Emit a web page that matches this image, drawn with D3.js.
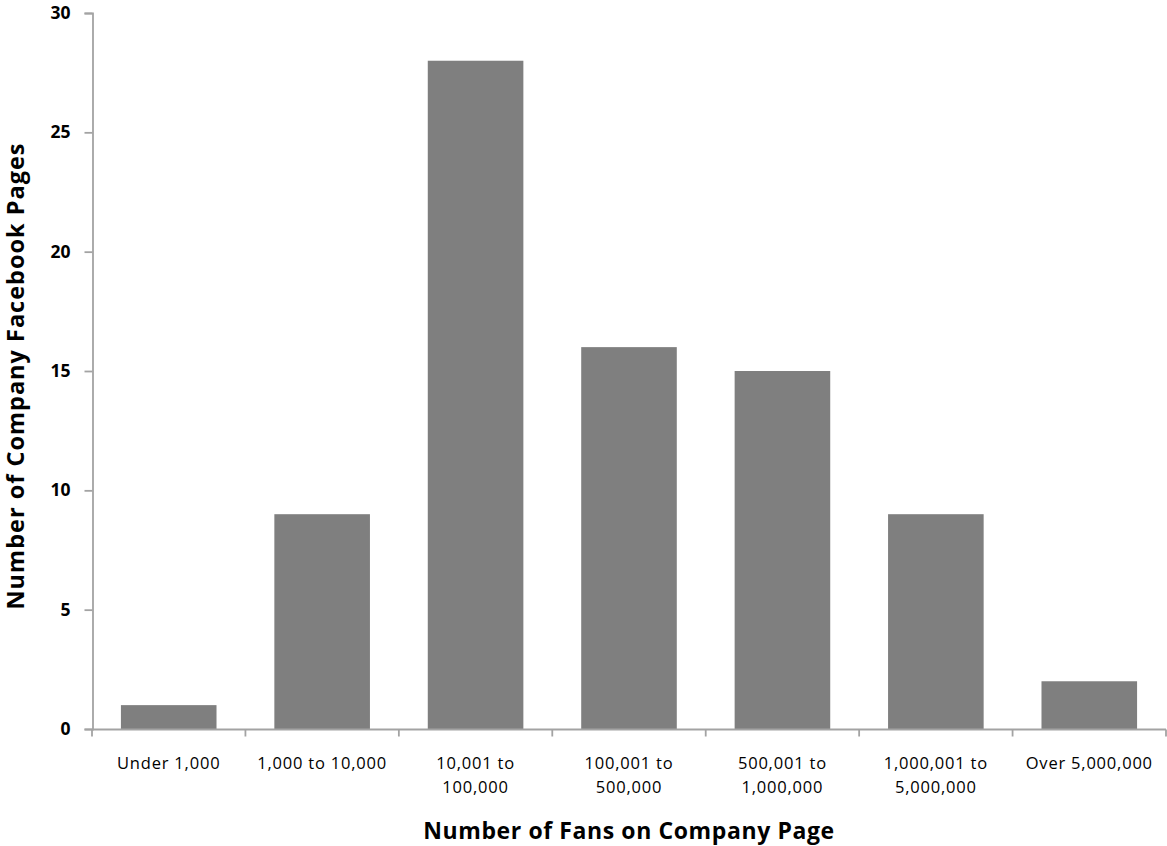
<!DOCTYPE html>
<html>
<head>
<meta charset="utf-8">
<script src="https://cdn.jsdelivr.net/npm/d3@7"></script>
<style>
  body { margin: 0; background: #fff; }
  svg { display: block; font-family: "Open Sans", Lato, sans-serif; }
</style>
</head>
<body>
<div id="chart"></div>
<script>
// chart data
const categories = ['Under 1,000', '1,000 to 10,000', '10,001 to 100,000', '100,001 to 500,000',
  '500,001 to 1,000,000', '1,000,001 to 5,000,000', 'Over 5,000,000']
const labelLines = [['Under 1,000'], ['1,000 to 10,000'], ['10,001 to', '100,000'], ['100,001 to', '500,000'],
  ['500,001 to', '1,000,000'], ['1,000,001 to', '5,000,000'], ['Over 5,000,000']]
const pageCounts = [1, 9, 28, 16, 15, 9, 2]
const yTicks = [0, 5, 10, 15, 20, 25, 30]

const width = 1167
	, height = 846
	, margin = { top: 13, right: 1, bottom: 117, left: 92 }
	, axisColor = '#a3a3a3'

const svg = d3.select('#chart').append('svg')
	.attr('width', width)
	.attr('height', height)

const x = d3.scaleBand()
	.domain(categories)
	.range([margin.left, width - margin.right])
	.paddingInner(0.377)
	.paddingOuter(0.377 / 2)

const y = d3.scaleLinear()
	.domain([0, 30])
	.range([height - margin.bottom, margin.top])

// bars
svg.append('g')
	.selectAll('rect')
	.data(pageCounts)
	.join('rect')
	  .attr('x', (d, i) => x(categories[i]))
	  .attr('y', d => y(d))
	  .attr('width', x.bandwidth())
	  .attr('height', d => y(0) - y(d))
	  .attr('fill', '#7f7f7f')

// y axis
const yAxis = svg.append('g')
	.attr('transform', 'translate(' + (margin.left + 0.5) + ',0)')
	.call(d3.axisLeft(y).tickValues(yTicks).tickSize(8).tickSizeOuter(8).tickPadding(14))

yAxis.selectAll('path, line').attr('stroke', axisColor).attr('stroke-width', 1.8)
yAxis.selectAll('text')
	.attr('fill', '#000')
	.style('font-size', '17.5px')
	.style('font-weight', 'bold')
	.style('font-family', '"Open Sans", sans-serif')

// x axis: ticks sit on the category boundaries
const step = x.step()
	, boundaries = d3.range(categories.length + 1).map(i => margin.left + i * step)

const xAxis = svg.append('g')
	.attr('transform', 'translate(0,' + (y(0) + 0.5) + ')')

xAxis.append('line')
	.attr('x1', margin.left)
	.attr('x2', width - margin.right)
	.attr('stroke', axisColor)
	.attr('stroke-width', 1.8)

xAxis.selectAll('.tick')
	.data(boundaries)
	.join('line')
	  .attr('class', 'tick')
	  .attr('x1', d => d)
	  .attr('x2', d => d)
	  .attr('y1', 0)
	  .attr('y2', 7)
	  .attr('stroke', axisColor)
	  .attr('stroke-width', 1.8)

xAxis.selectAll('.label')
	.data(labelLines)
	.join('text')
	  .attr('class', 'label')
	  .attr('text-anchor', 'middle')
	  .style('font-size', '16.5px')
	  .style('letter-spacing', '0.8px')
	  .selectAll('tspan')
	  .data((d, i) => d.map(t => ({ t: t, i: i })))
	  .join('tspan')
	    .attr('x', d => x(categories[d.i]) + x.bandwidth() / 2)
	    .attr('y', (d, j) => 39 + j * 24)
	    .text(d => d.t)

// axis titles
svg.append('text')
	.attr('x', (margin.left + width - margin.right) / 2)
	.attr('y', 839)
	.attr('text-anchor', 'middle')
	.style('font-size', '23px')
	.style('font-weight', 'bold')
	.style('letter-spacing', '0.6px')
	.text('Number of Fans on Company Page')

svg.append('text')
	.attr('transform', 'translate(24,' + (margin.top + (y(0) - margin.top) / 2 + 5) + ') rotate(-90)')
	.attr('text-anchor', 'middle')
	.style('font-size', '23.5px')
	.style('font-weight', 'bold')
	.style('letter-spacing', '1px')
	.text('Number of Company Facebook Pages')
</script>
</body>
</html>
